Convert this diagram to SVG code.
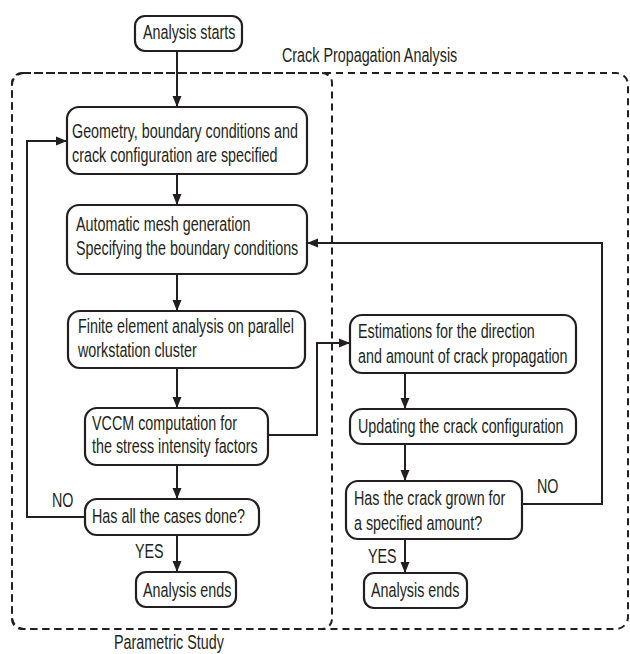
<svg xmlns="http://www.w3.org/2000/svg" width="630" height="654" viewBox="0 0 630 654">
<defs>
<marker id="ah" markerUnits="userSpaceOnUse" markerWidth="12" markerHeight="10" refX="11" refY="5" orient="auto">
<path d="M0,0.5 L11,5 L0,9.5 Z" fill="#231f20"/>
</marker>
<style>
.box{fill:#fff;stroke:#231f20;stroke-width:2.2}
.t{font-family:"Liberation Sans",Arial,sans-serif;font-size:19.5px;fill:#231f20}
.c{fill:none;stroke:#231f20;stroke-width:2}
.a{marker-end:url(#ah)}
.d{fill:none;stroke:#231f20;stroke-width:2;stroke-dasharray:7 5}
</style>
</defs>
<rect x="0" y="0" width="630" height="654" fill="#fff"/>
<g id="regions">
<rect class="d" x="12" y="73" width="616" height="556" rx="12"/>
<rect class="d" x="12" y="73" width="320" height="556" rx="10"/>
<text class="t" transform="translate(282 62) scale(0.735 1)">Crack Propagation Analysis</text>
<text class="t" transform="translate(114 648.5) scale(0.735 1)">Parametric Study</text>
</g>
<g id="connectors">
<path class="c a" d="M177,51 V107"/>
<path class="c a" d="M177,174 V205"/>
<path class="c a" d="M177,274 V311"/>
<path class="c a" d="M177,368 V408"/>
<path class="c a" d="M177,465 V499"/>
<path class="c a" d="M177,535 V572"/>
<path class="c a" d="M85,517 H27 V141 H67"/>
<path class="c a" d="M268,435 H317 V343 H350"/>
<path class="c a" d="M405,373 V409"/>
<path class="c a" d="M405,444 V481"/>
<path class="c a" d="M405,539 V573"/>
<path class="c a" d="M522,504 H602 V243 H307"/>
<text class="t" transform="translate(52 507) scale(0.735 1)">NO</text>
<text class="t" transform="translate(135 558) scale(0.735 1)">YES</text>
<text class="t" transform="translate(537 493) scale(0.735 1)">NO</text>
<text class="t" transform="translate(368 563) scale(0.735 1)">YES</text>
</g>
<g id="start">
<rect class="box" x="135" y="16" width="107" height="35" rx="10"/>
<text class="t" transform="translate(143 39) scale(0.735 1)">Analysis starts</text>
</g>
<g id="geometry">
<rect class="box" x="67" y="107" width="240" height="67" rx="12"/>
<text class="t" transform="translate(72 138) scale(0.735 1)">Geometry, boundary conditions and</text>
<text class="t" transform="translate(72 162) scale(0.735 1)">crack configuration are specified</text>
</g>
<g id="mesh">
<rect class="box" x="67" y="205" width="240" height="69" rx="12"/>
<text class="t" transform="translate(76 231) scale(0.735 1)">Automatic mesh generation</text>
<text class="t" transform="translate(76 255) scale(0.735 1)">Specifying the boundary conditions</text>
</g>
<g id="fem">
<rect class="box" x="68" y="311" width="237" height="57" rx="12"/>
<text class="t" transform="translate(78 333) scale(0.735 1)">Finite element analysis on parallel</text>
<text class="t" transform="translate(78 357) scale(0.735 1)">workstation cluster</text>
</g>
<g id="vccm">
<rect class="box" x="85" y="408" width="183" height="57" rx="12"/>
<text class="t" transform="translate(92 430) scale(0.735 1)">VCCM computation for</text>
<text class="t" transform="translate(92 453) scale(0.735 1)">the stress intensity factors</text>
</g>
<g id="cases">
<rect class="box" x="85" y="499" width="174" height="36" rx="12"/>
<text class="t" transform="translate(92 523) scale(0.735 1)">Has all the cases done?</text>
</g>
<g id="end1">
<rect class="box" x="136" y="572" width="100" height="35" rx="10"/>
<text class="t" transform="translate(143 597) scale(0.735 1)">Analysis ends</text>
</g>
<g id="estimate">
<rect class="box" x="350" y="315" width="226" height="58" rx="12"/>
<text class="t" transform="translate(358 338) scale(0.735 1)">Estimations for the direction</text>
<text class="t" transform="translate(358 363) scale(0.735 1)">and amount of crack propagation</text>
</g>
<g id="update">
<rect class="box" x="350" y="409" width="226" height="35" rx="12"/>
<text class="t" transform="translate(358 433) scale(0.735 1)">Updating the crack configuration</text>
</g>
<g id="grown">
<rect class="box" x="346" y="481" width="176" height="58" rx="12"/>
<text class="t" transform="translate(354 505) scale(0.735 1)">Has the crack grown for</text>
<text class="t" transform="translate(354 530) scale(0.735 1)">a specified amount?</text>
</g>
<g id="end2">
<rect class="box" x="364" y="573" width="103" height="35" rx="10"/>
<text class="t" transform="translate(371 597) scale(0.735 1)">Analysis ends</text>
</g>
</svg>
